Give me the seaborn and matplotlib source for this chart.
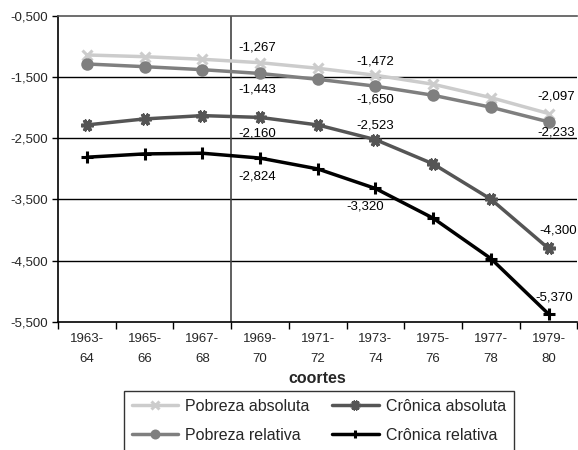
import numpy as np
import pandas as pd
import matplotlib
matplotlib.use("Agg")
import matplotlib.pyplot as plt
import seaborn as sns
from matplotlib.ticker import FixedLocator, FuncFormatter

sns.set_style("white")
plt.rcParams['font.family'] = ['Liberation Sans', 'DejaVu Sans']

# ---- data ----
cohorts = ["1963-\n64", "1965-\n66", "1967-\n68", "1969-\n70", "1971-\n72",
           "1973-\n74", "1975-\n76", "1977-\n78", "1979-\n80"]
pobreza_absoluta = [-1.141, -1.169, -1.211, -1.267, -1.358, -1.472, -1.619, -1.837, -2.097]
pobreza_relativa = [-1.288, -1.332, -1.381, -1.443, -1.538, -1.650, -1.799, -1.994, -2.233]
cronica_absoluta = [-2.283, -2.185, -2.131, -2.160, -2.283, -2.523, -2.919, -3.495, -4.300]
cronica_relativa = [-2.810, -2.756, -2.745, -2.824, -3.001, -3.320, -3.805, -4.464, -5.370]
series_names = ["Pobreza absoluta", "Pobreza relativa", "Crônica absoluta", "Crônica relativa"]
yticks = [-0.5, -1.5, -2.5, -3.5, -4.5, -5.5]
labeled_idx = [3, 5, 8]
xlabel = "coortes"

series = [pobreza_absoluta, pobreza_relativa, cronica_absoluta, cronica_relativa]
styles = [
    dict(color="#cccccc", marker="x", markersize=7, markeredgewidth=2.2),
    dict(color="#7f7f7f", marker="o", markersize=9, markeredgewidth=0),
    dict(color="#555555", marker=(6, 2, 90), markersize=9, markeredgewidth=2.6),
    dict(color="#000000", marker="+", markersize=8, markeredgewidth=2.2),
]
# label offsets in pixels (dx, dy) per series per labeled index
offsets = [
    {3: (-22, 15), 5: (-19, 14), 8: (-11, 17)},
    {3: (-22, -16), 5: (-19, -13), 8: (-11, -11)},
    {3: (-22, -16), 5: (-19, 14), 8: (-9, 18)},
    {3: (-22, -18), 5: (-29, -18), 8: (-13, 17)},
]

fig = plt.figure(figsize=(5.78, 4.5), dpi=100)
ax = fig.add_axes([58 / 578, 1 - 322 / 450, 1 - 58 / 578 - 0.001, (322 - 15.7) / 450])

x = np.arange(len(cohorts))
for name, vals, st in zip(series_names, series, styles):
    df = pd.DataFrame({"x": x, "y": vals})
    sns.lineplot(data=df, x="x", y="y", ax=ax, label=name, linewidth=2.5,
                 markerfacecolor=st["color"], markeredgecolor=st["color"],
                 **st)

for vals, offs in zip(series, offsets):
    for i in labeled_idx:
        dx, dy = offs[i]
        ax.annotate(f"{vals[i]:.3f}".replace(".", ","), (x[i], vals[i]),
                    xytext=(dx, dy), textcoords="offset pixels",
                    ha="left", va="center", fontsize=9.5, color="black",
                    annotation_clip=False)

ax.set_xlim(-0.5, len(cohorts) - 0.5)
ax.set_ylim(min(yticks), max(yticks))

for yv in yticks[1:-1]:
    ax.axhline(yv, color="black", lw=1.0, zorder=0.5)
ax.axvline(2.5, color="#444444", lw=1.2, zorder=0.5)

ax.set_yticks(yticks)
ax.yaxis.set_major_formatter(FuncFormatter(lambda v, p: f"{v:.3f}".replace(".", ",")))
ax.set_xticks(x)
ax.set_xticklabels(cohorts, linespacing=1.9)
ax.xaxis.set_minor_locator(FixedLocator(np.arange(-0.5, len(cohorts), 1.0)))
ax.tick_params(axis="x", which="major", length=0, pad=8, labelsize=9.5)
ax.tick_params(axis="x", which="minor", length=5, width=1, color="black", direction="out", bottom=True)
ax.tick_params(axis="y", which="major", length=4, width=1, color="black", direction="out", left=True,
               labelsize=9.5, pad=3)

ax.set_xlabel(xlabel, fontsize=11.5, fontweight="bold", labelpad=4)
ax.set_ylabel("")

ax.spines["left"].set_color("black")
ax.spines["bottom"].set_color("black")
ax.spines["top"].set_color("#555555")
ax.spines["right"].set_visible(False)
for s in ["left", "bottom", "top"]:
    ax.spines[s].set_linewidth(1.2)

ax.get_legend().remove()
handles, labels = ax.get_legend_handles_labels()
order = [0, 1, 2, 3]
leg = fig.legend([handles[i] for i in order], [labels[i] for i in order],
                 loc="upper left", bbox_to_anchor=(124 / 578, 1 - 391 / 450),
                 ncol=2, fontsize=11.5, frameon=True, fancybox=False,
                 edgecolor="black", handlelength=2.9, handletextpad=0.45,
                 columnspacing=1.4, labelspacing=0.85, borderpad=0.5,
                 borderaxespad=0)
leg.get_frame().set_linewidth(1.0)
for h in leg.legend_handles:
    h.set_markersize(h.get_markersize() * 0.8)

fig.savefig("out.png", dpi=100)
